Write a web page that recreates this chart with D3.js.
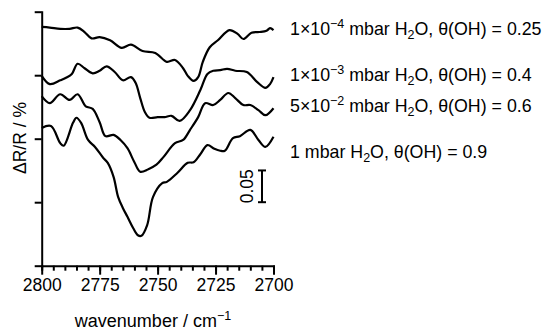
<!DOCTYPE html>
<html>
<head>
<meta charset="utf-8">
<script src="https://cdn.jsdelivr.net/npm/d3@7"></script>
<style>
  body { margin: 0; background: #fff; }
  text { font-family: "Liberation Sans", Arial, sans-serif; fill: #000; }
</style>
</head>
<body>
<script>
// wavenumbers (cm-1) and offset ΔR/R (%) for each spectrum
var wn1 = [2800, 2796.5, 2792, 2788, 2784.5, 2781.5, 2778.5, 2775, 2770.5, 2765.5, 2761.5, 2756.5, 2751, 2746, 2742.5, 2739, 2737, 2734.5, 2732.5, 2730.5, 2727.5, 2724, 2719, 2715.5, 2713, 2709.5, 2706, 2703, 2701.5, 2700];
var dr1 = [.376, .375, .373, .373, .375, .368, .358, .360, .355, .343, .348, .338, .335, .321, .324, .311, .299, .291, .297, .321, .344, .355, .371, .365, .357, .367, .368, .370, .374, .371];

var wn2 = [2800, 2796.5, 2792, 2789.5, 2787, 2784.5, 2781.5, 2778, 2775, 2772, 2768.5, 2765, 2761.5, 2759.5, 2757.5, 2755.5, 2753.5, 2750, 2747, 2744, 2740.5, 2736, 2731.5, 2728.5, 2726, 2723, 2720, 2716.5, 2711.5, 2707, 2703.5, 2701.5, 2700];
var dr2 = [.299, .286, .292, .296, .302, .318, .311, .303, .307, .314, .305, .292, .297, .288, .264, .242, .233, .234, .234, .236, .228, .245, .277, .302, .307, .308, .310, .307, .305, .289, .280, .286, .297];

var wn3 = [2800, 2796.5, 2792, 2788, 2784.5, 2781, 2778, 2775, 2772.5, 2769, 2766, 2763, 2760, 2757.5, 2754, 2750.5, 2747.5, 2742.5, 2739, 2736, 2732.5, 2729.5, 2726, 2723, 2719.5, 2716.5, 2713, 2710, 2706.5, 2703.5, 2700];
var dr3 = [.267, .256, .270, .261, .270, .251, .247, .226, .204, .206, .198, .185, .163, .148, .152, .159, .171, .193, .198, .214, .234, .256, .253, .261, .272, .264, .253, .253, .245, .237, .248];

var wn4 = [2800, 2796, 2792, 2790.5, 2786.5, 2785, 2783, 2780, 2777, 2773.5, 2771.5, 2769, 2767, 2765, 2763, 2760.5, 2758.5, 2757, 2754.5, 2752, 2748, 2746, 2741.5, 2737, 2734.5, 2731.5, 2728.5, 2725.5, 2723, 2721, 2717.5, 2714.5, 2710, 2706.5, 2703.5, 2700];
var dr4 = [.217, .220, .193, .189, .225, .233, .225, .198, .187, .170, .162, .140, .108, .091, .077, .059, .048, .047, .064, .108, .130, .132, .146, .162, .163, .176, .190, .184, .181, .181, .201, .204, .214, .198, .187, .203];

var mantissa = ["1×10", "1×10", "5×10", "1"];
var exponent = ["−4", "−3", "−2", ""];
var coverage = ["0.25", "0.4", "0.6", "0.9"];
var labelY = [35, 81, 112, 158];

var xTicks = [2800, 2775, 2750, 2725, 2700];
var yTicks = [0, 0.1, 0.2, 0.3, 0.4];
var scaleBar = 0.05;

var width = 544, height = 330;

var x = d3.scaleLinear().domain([2800, 2700]).range([41.7, 273.5]);
var y = d3.scaleLinear().domain([0, 0.4]).range([265.7, 11.7]);

var svg = d3.select("body").append("svg")
  .attr("width", width)
  .attr("height", height);

var series = [[wn1, dr1], [wn2, dr2], [wn3, dr3], [wn4, dr4]];

var line = d3.line()
  .x(function (d) { return x(d[0]); })
  .y(function (d) { return y(d[1]); })
  .curve(d3.curveCatmullRom.alpha(0.5));

svg.selectAll(".spec")
  .data(series)
  .enter().append("path")
  .attr("class", "spec")
  .attr("d", function (s) { return line(d3.zip(s[0], s[1])); })
  .attr("fill", "none")
  .attr("stroke", "#000")
  .attr("stroke-width", 2.2)
  .attr("stroke-linejoin", "round");

// minor x ticks
var xMinor = svg.append("g")
  .attr("transform", "translate(0," + y(0) + ")")
  .call(d3.axisBottom(x).tickValues(d3.range(2800, 2699, -5)).tickSize(5).tickFormat(""));

var xAxis = svg.append("g")
  .attr("transform", "translate(0," + y(0) + ")")
  .call(d3.axisBottom(x).tickValues(xTicks).tickSize(9).tickSizeOuter(0).tickPadding(4)
    .tickFormat(d3.format("d")));

var yAxis = svg.append("g")
  .attr("transform", "translate(" + x(2800) + ",0)")
  .call(d3.axisLeft(y).tickValues(yTicks).tickSize(7).tickSizeOuter(0).tickFormat(""));

[xMinor, xAxis, yAxis].forEach(function (g) {
  g.selectAll("path, line").attr("stroke", "#000").attr("stroke-width", 2);
  g.select(".domain").attr("stroke-linecap", "square");
});
xMinor.select(".domain").remove();
xAxis.selectAll("text").attr("font-size", 17.5).attr("font-family", "Liberation Sans, Arial, sans-serif").attr("fill", "#000");

// axis titles
var xt = svg.append("text")
  .attr("x", 153).attr("y", 327)
  .attr("text-anchor", "middle")
  .attr("font-size", 18);
xt.append("tspan").text("wavenumber / cm");
xt.append("tspan").attr("dy", -7).attr("font-size", 12.5).text("−1");

svg.append("text")
  .attr("transform", "translate(26,138) rotate(-90)")
  .attr("text-anchor", "middle")
  .attr("font-size", 17.5)
  .text("ΔR/R / %");

// scale bar
var barX = 262;
var bar = svg.append("g").attr("stroke", "#000").attr("stroke-width", 2);
bar.append("line").attr("x1", barX).attr("x2", barX)
  .attr("y1", y(0.1)).attr("y2", y(0.1) - (y(0) - y(scaleBar)));
bar.append("line").attr("x1", barX - 4).attr("x2", barX + 4)
  .attr("y1", y(0.1)).attr("y2", y(0.1));
bar.append("line").attr("x1", barX - 4).attr("x2", barX + 4)
  .attr("y1", y(0.1) - (y(0) - y(scaleBar))).attr("y2", y(0.1) - (y(0) - y(scaleBar)));
svg.append("text")
  .attr("transform", "translate(253," + (y(0.1) - (y(0) - y(scaleBar)) / 2) + ") rotate(-90)")
  .attr("text-anchor", "middle")
  .attr("font-size", 17.5)
  .text("0.05");

// labels
coverage.forEach(function (c, i) {
  var t = svg.append("text")
    .attr("x", 290).attr("y", labelY[i])
    .attr("font-size", 17.8);
  t.append("tspan").text(mantissa[i]);
  if (exponent[i]) {
    t.append("tspan").attr("dy", -7).attr("font-size", 12.5).text(exponent[i]);
    t.append("tspan").attr("dy", 7).text(" mbar H");
  } else {
    t.append("tspan").text(" mbar H");
  }
  t.append("tspan").attr("dy", 4).attr("font-size", 12.5).text("2");
  t.append("tspan").attr("dy", -4).text("O, θ(OH) = " + c);
});
</script>
</body>
</html>
